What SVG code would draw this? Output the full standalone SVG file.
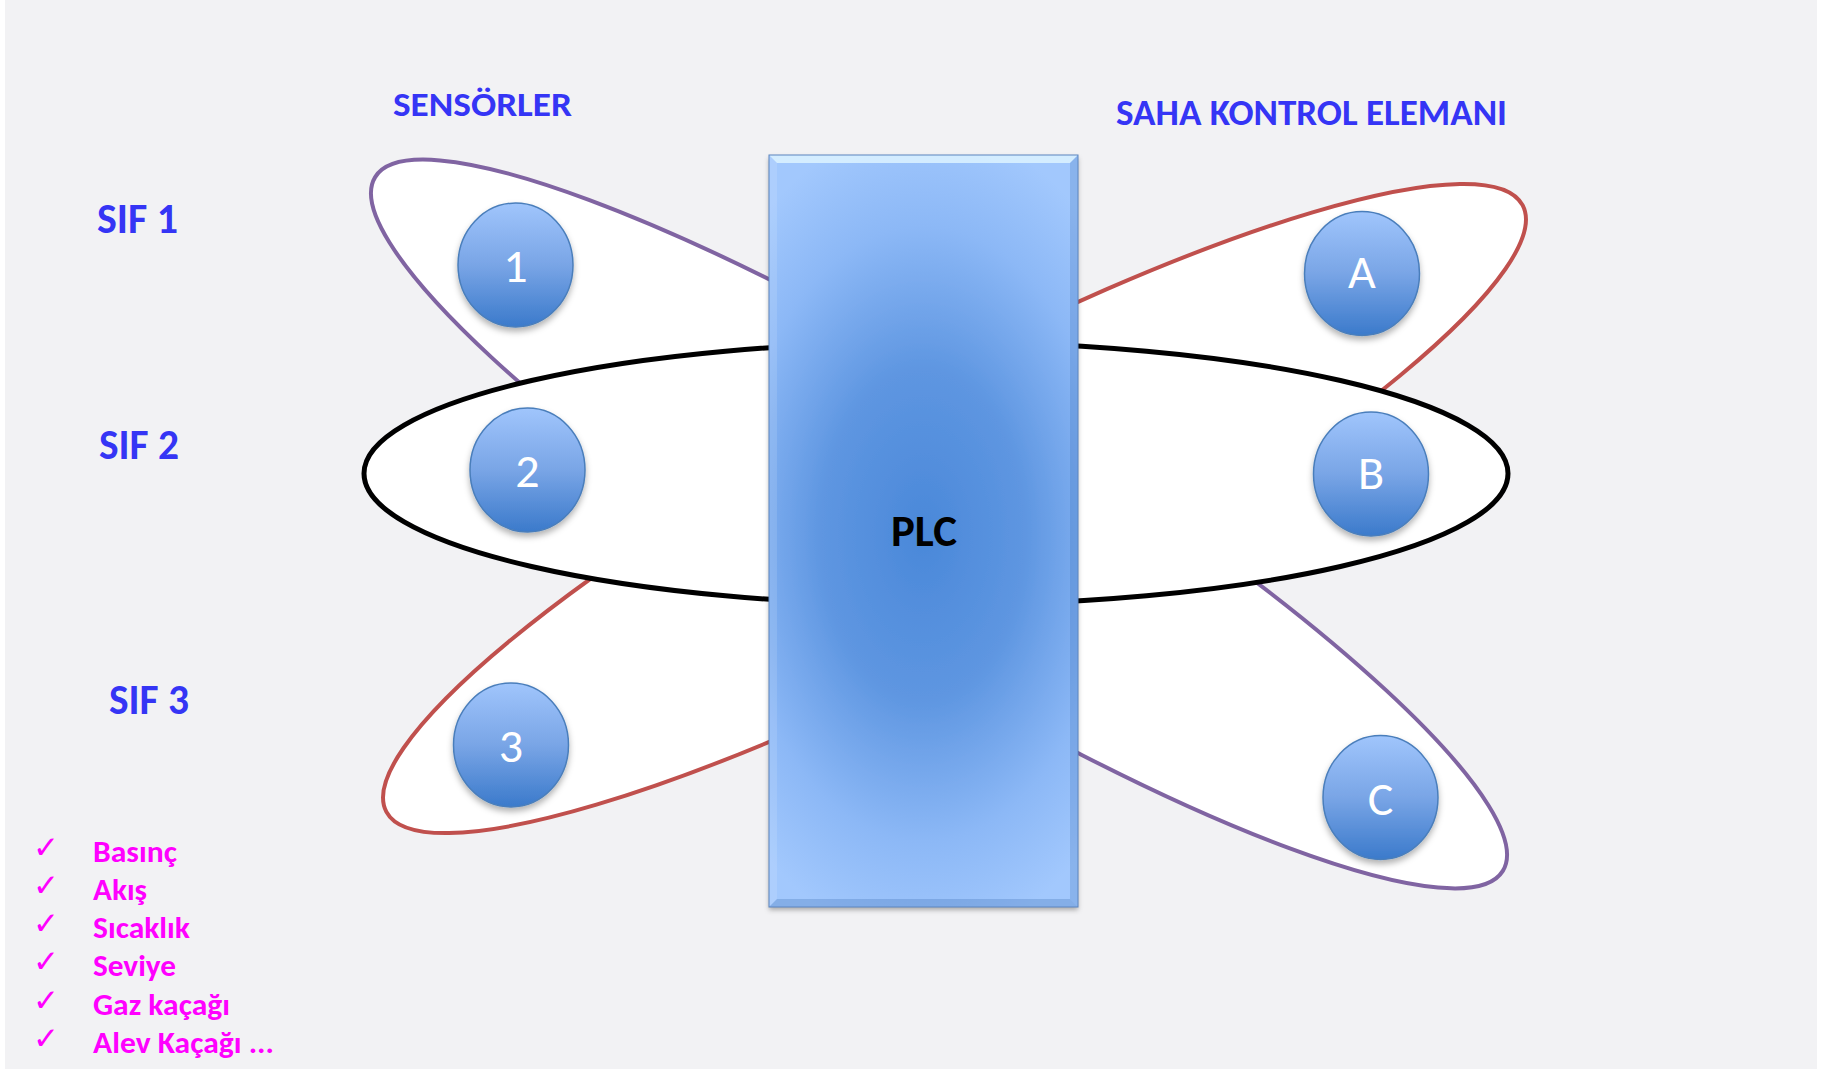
<svg xmlns="http://www.w3.org/2000/svg" width="1839" height="1069" viewBox="0 0 1839 1069">
  <style>
    .loop { fill: #ffffff; }
    .heading { font-family: Carlito, "Liberation Sans", Arial, sans-serif; font-weight: bold; fill: #3535f5; }
    .plc-label { font-family: Carlito, "Liberation Sans", Arial, sans-serif; font-weight: bold; fill: #000000; font-size: 45px; }
    .node-label { font-family: Carlito, "Liberation Sans", Arial, sans-serif; fill: #ffffff; font-size: 48px; text-anchor: middle; }
    .item { font-family: Carlito, "Liberation Sans", Arial, sans-serif; font-weight: bold; fill: #ff00ff; font-size: 31px; }
    .tick { font-family: "DejaVu Sans", sans-serif; fill: #ff00ff; font-size: 31px; }
    .node { fill: url(#nodeFill); stroke: #4a7ebb; stroke-width: 1.5; filter: url(#nodeShadow); }
  </style>
  <defs>
    <linearGradient id="nodeFill" x1="0" y1="0" x2="0" y2="1">
      <stop offset="0" stop-color="#a0c5fc"/>
      <stop offset="0.5" stop-color="#79a5e6"/>
      <stop offset="1" stop-color="#3b7acb"/>
    </linearGradient>
    <radialGradient id="plcFill" gradientUnits="userSpaceOnUse" cx="923" cy="534" r="410"
                    gradientTransform="translate(923 534) scale(0.62 1) translate(-923 -534)">
      <stop offset="0" stop-color="#4a88d9"/>
      <stop offset="0.4" stop-color="#5e96e1"/>
      <stop offset="0.75" stop-color="#8cb8f6"/>
      <stop offset="1" stop-color="#a2c8fd"/>
    </radialGradient>
    <filter id="nodeShadow" x="-30%" y="-30%" width="160%" height="170%">
      <feDropShadow dx="0" dy="4" stdDeviation="3" flood-color="#000000" flood-opacity="0.3"/>
    </filter>
    <filter id="plcShadow" x="-10%" y="-5%" width="120%" height="110%">
      <feDropShadow dx="0" dy="3" stdDeviation="2.5" flood-color="#000000" flood-opacity="0.3"/>
    </filter>
  </defs>

  <!-- slide background -->
  <rect x="0" y="0" width="1839" height="1069" fill="#ffffff"/>
  <rect x="5" y="0" width="1812" height="1069" fill="#f2f2f4"/>

  <!-- SIF loops joining each sensor to its field element through the PLC -->
  <g id="connectors">
    <ellipse id="loop-sif1" class="loop" cx="939" cy="524" rx="662" ry="131"
             transform="rotate(31.6 939 524)" stroke="#8064a2" stroke-width="4"/>
    <ellipse id="loop-sif3" class="loop" cx="954.5" cy="508.5" rx="644" ry="131"
             transform="rotate(-28.1 954.5 508.5)" stroke="#c0504d" stroke-width="4"/>
    <ellipse id="loop-sif2" class="loop" cx="936" cy="473.5" rx="572" ry="131.5"
             stroke="#000000" stroke-width="5"/>
  </g>

  <!-- PLC block -->
  <g id="plc">
    <rect x="769" y="155" width="309" height="752" fill="url(#plcFill)" filter="url(#plcShadow)"/>
    <polygon points="769,155 1078,155 1070,163 777,163" fill="#d9f1ff" opacity="0.9"/>
    <polygon points="769,155 777,163 777,899 769,907" fill="#ffffff" opacity="0.12"/>
    <polygon points="1078,155 1070,163 1070,899 1078,907" fill="#2a5fa8" opacity="0.2"/>
    <polygon points="769,907 777,899 1070,899 1078,907" fill="#2a5fa8" opacity="0.25"/>
    <rect x="769" y="155" width="309" height="752" fill="none" stroke="#5d86c0" stroke-width="1"/>
    <text class="plc-label" x="891" y="546" textLength="66" lengthAdjust="spacingAndGlyphs">PLC</text>
  </g>

  <!-- sensors -->
  <g id="sensor-1">
    <ellipse class="node" cx="515.5" cy="265" rx="57.5" ry="62"/>
    <text class="node-label" x="515.5" y="282">1</text>
  </g>
  <g id="sensor-2">
    <ellipse class="node" cx="527.5" cy="470" rx="57.5" ry="62"/>
    <text class="node-label" x="527.5" y="487">2</text>
  </g>
  <g id="sensor-3">
    <ellipse class="node" cx="511" cy="745" rx="57.5" ry="62"/>
    <text class="node-label" x="511" y="762">3</text>
  </g>

  <!-- final control elements -->
  <g id="element-a">
    <ellipse class="node" cx="1362" cy="273.5" rx="57.5" ry="62"/>
    <text class="node-label" x="1362" y="288">A</text>
  </g>
  <g id="element-b">
    <ellipse class="node" cx="1371" cy="474" rx="57.5" ry="62"/>
    <text class="node-label" x="1371" y="489">B</text>
  </g>
  <g id="element-c">
    <ellipse class="node" cx="1380.5" cy="797.5" rx="57.5" ry="62"/>
    <text class="node-label" x="1380.5" y="815">C</text>
  </g>

  <!-- column and row headings -->
  <g id="headings">
    <text class="heading" x="393" y="116" font-size="34" textLength="179" lengthAdjust="spacingAndGlyphs">SENSÖRLER</text>
    <text class="heading" x="1116" y="125" font-size="36" textLength="391" lengthAdjust="spacingAndGlyphs">SAHA KONTROL ELEMANI</text>
    <text class="heading" x="97" y="233" font-size="42" textLength="81" lengthAdjust="spacingAndGlyphs">SIF 1</text>
    <text class="heading" x="99" y="459" font-size="42" textLength="80" lengthAdjust="spacingAndGlyphs">SIF 2</text>
    <text class="heading" x="109" y="714" font-size="42" textLength="80" lengthAdjust="spacingAndGlyphs">SIF 3</text>
  </g>

  <!-- measured process variables -->
  <g id="variables">
    <text class="tick" x="33" y="858">✓</text>
    <text class="tick" x="33" y="896">✓</text>
    <text class="tick" x="33" y="934">✓</text>
    <text class="tick" x="33" y="972">✓</text>
    <text class="tick" x="33" y="1011">✓</text>
    <text class="tick" x="33" y="1049">✓</text>
    <text class="item" x="93" y="862" textLength="84" lengthAdjust="spacingAndGlyphs">Basınç</text>
    <text class="item" x="93" y="900" textLength="54" lengthAdjust="spacingAndGlyphs">Akış</text>
    <text class="item" x="93" y="938" textLength="97" lengthAdjust="spacingAndGlyphs">Sıcaklık</text>
    <text class="item" x="93" y="976" textLength="83" lengthAdjust="spacingAndGlyphs">Seviye</text>
    <text class="item" x="93" y="1015" textLength="137" lengthAdjust="spacingAndGlyphs">Gaz kaçağı</text>
    <text class="item" x="93" y="1053" textLength="181" lengthAdjust="spacingAndGlyphs">Alev Kaçağı ...</text>
  </g>
</svg>
